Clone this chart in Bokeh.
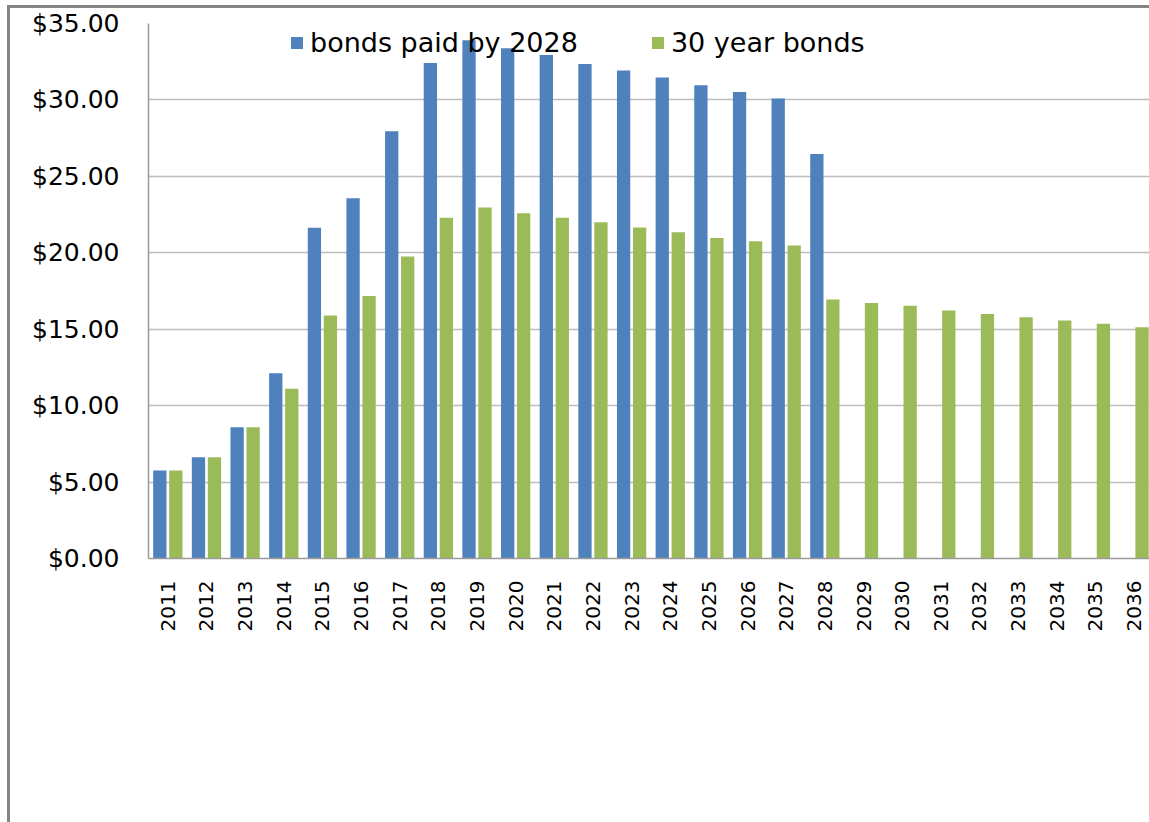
import math
from bokeh.plotting import figure
from bokeh.models import (ColumnDataSource, FixedTicker, Legend, LegendItem,
                          Range1d, InlineStyleSheet)
from bokeh.transform import dodge
from bokeh.embed import file_html
from bokeh.resources import INLINE

# ---- data ----
years_all = list(range(2011, 2037))
years_2028 = list(range(2011, 2029))
bonds_paid_by_2028 = [5.76, 6.63, 8.59, 12.12, 21.63, 23.57, 27.95, 32.42, 33.90,
                      33.38, 32.94, 32.35, 31.92, 31.46, 30.96, 30.52, 30.09, 26.47]
thirty_year_bonds = [5.76, 6.63, 8.59, 11.10, 15.90, 17.18, 19.75, 22.30, 22.96,
                     22.58, 22.30, 22.00, 21.65, 21.34, 20.97, 20.75, 20.47, 16.95,
                     16.72, 16.53, 16.22, 16.00, 15.78, 15.57, 15.35, 15.13]
series_names = ["bonds paid by 2028", "30 year bonds"]
y_ticks = [0, 5, 10, 15, 20, 25, 30, 35]
y_tick_labels = ["$0.00", "$5.00", "$10.00", "$15.00", "$20.00", "$25.00", "$30.00", "$35.00"]
x_tick_labels = [str(y) for y in years_all]

BLUE = "#4F81BD"
GREEN = "#9BBB59"
FONT = "DejaVu Sans"

src_blue = ColumnDataSource(dict(year=years_2028, value=bonds_paid_by_2028))
src_green = ColumnDataSource(dict(year=years_all, value=thirty_year_bonds))

# outer chart-area border (left and top edges), drawn behind the transparent canvas border
frame_css = InlineStyleSheet(css="""
:host {
  background:
    linear-gradient(#858585, #858585) 7px 5px / 3px 817px no-repeat,
    linear-gradient(#858585, #858585) 7px 5px / 1142px 3px no-repeat,
    #ffffff;
}
""")

p = figure(width=1149, height=822, output_backend="svg", toolbar_location=None,
           x_range=Range1d(2010.5, 2036.4), y_range=Range1d(0, 35),
           min_border_left=148, min_border_right=0, min_border_top=23,
           min_border_bottom=264, stylesheets=[frame_css])
p.outline_line_color = None
p.background_fill_color = "white"
p.border_fill_alpha = 0

r_blue = p.vbar(x=dodge("year", -0.207, range=p.x_range), top="value", width=0.344,
                source=src_blue, fill_color=BLUE, line_color=None)
r_green = p.vbar(x=dodge("year", 0.207, range=p.x_range), top="value", width=0.344,
                 source=src_green, fill_color=GREEN, line_color=None)

# grid
p.xgrid.grid_line_color = None
p.ygrid.ticker = FixedTicker(ticks=y_ticks)
p.ygrid.grid_line_color = "#bdbdbd"
p.ygrid.grid_line_width = 1.5

# x axis
xa = p.xaxis[0]
xa.ticker = FixedTicker(ticks=years_all)
xa.major_label_overrides = {y: lab for y, lab in zip(years_all, x_tick_labels)}
xa.major_label_orientation = math.pi / 2
xa.major_tick_line_color = None
xa.major_tick_out = 0
xa.major_tick_in = 0
xa.minor_tick_line_color = None
xa.axis_line_color = "#9a9a9a"
xa.axis_line_width = 1.5
xa.major_label_standoff = 22
xa.major_label_text_font = FONT
xa.major_label_text_font_size = "20px"
xa.major_label_text_color = "black"

# y axis
ya = p.yaxis[0]
ya.ticker = FixedTicker(ticks=y_ticks)
ya.major_label_overrides = {t: lab for t, lab in zip(y_ticks, y_tick_labels)}
ya.major_tick_line_color = None
ya.major_tick_out = 0
ya.major_tick_in = 0
ya.minor_tick_line_color = None
ya.axis_line_color = "#9a9a9a"
ya.axis_line_width = 1.5
ya.major_label_standoff = 29
ya.major_label_text_font = FONT
ya.major_label_text_font_size = "25px"
ya.major_label_text_color = "black"

# legend
legend = Legend(items=[LegendItem(label=series_names[0], renderers=[r_blue]),
                       LegendItem(label=series_names[1], renderers=[r_green])],
                orientation="horizontal", location=(141, 500), padding=0, margin=0,
                spacing=72, glyph_width=15, glyph_height=15, label_standoff=6,
                label_text_font=FONT, label_text_font_size="27px",
                label_text_color="black",
                background_fill_alpha=0, border_line_color=None)
p.add_layout(legend)

open("out.html", "w").write(file_html(p, INLINE))
